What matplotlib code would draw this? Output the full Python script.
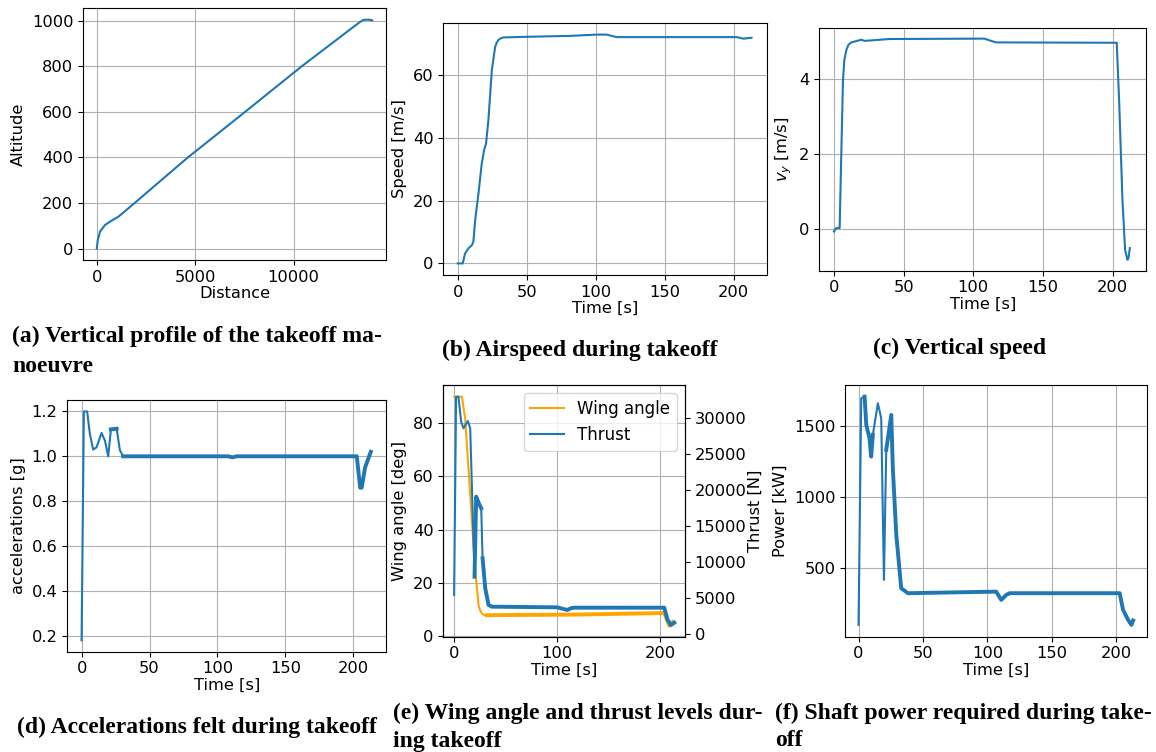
import matplotlib.pyplot as plt

W, H = 1156, 752
plt.rcParams['font.size'] = 11.7
plt.rcParams['font.family'] = 'DejaVu Sans'

blue = '#1f77b4'
orange = '#FFA500'

# (a) vertical profile
dist = [0, 50, 168, 422, 763, 1100, 1912, 4578, 7457, 10427, 13350, 13550, 13800, 14000]
alt = [0, 38, 75, 104, 123, 140, 199, 396, 594, 800, 992, 1003, 1004, 1001]

# (b) airspeed
t_speed = [0, 3.6, 5.3, 7.7, 10.2, 11.3, 12.6, 15, 17.4, 19.1, 20.5, 22.2, 24.7, 27.1, 28.3,
           29.5, 31, 33.1, 50, 81.5, 100.8, 108, 111.5, 115.3, 202, 204.5, 207, 213]
speed = [0, 0, 3.2, 4.8, 5.8, 6.9, 13.8, 22.3, 31.9, 36.2, 38.3, 45.7, 61.7, 69.1, 70.5,
         71.3, 71.8, 72.1, 72.3, 72.6, 73, 73, 72.6, 72.2, 72.2, 72, 71.7, 72]

# (c) vertical speed
t_vy = [0, 1.7, 4.1, 5.3, 6.5, 7.5, 8.9, 10.5, 12.5, 19.6, 22, 40, 108, 112, 116.4, 203,
        204.7, 207.1, 209, 210.7, 211.5, 212.4]
vy = [-0.06, 0.03, 0.03, 2.02, 3.97, 4.5, 4.76, 4.9, 4.96, 5.03, 5.0, 5.05, 5.06, 5.01, 4.96, 4.95,
      3.43, 0.78, -0.55, -0.81, -0.75, -0.5]

# (d) accelerations
t_acc = [0, 1.7, 4.1, 6.1, 8.5, 11, 14.7, 17.2, 19.6, 21.6, 25.8, 28.2, 30.6, 60, 108,
         111, 114, 202.5, 205, 206.1, 208.6, 212.8]
acc = [0.18, 1.2, 1.2, 1.10, 1.03, 1.04, 1.104, 1.07, 1.0, 1.12, 1.123, 1.027, 1.0, 1.0, 1.0,
       0.995, 1.0, 1.0, 0.86, 0.86, 0.95, 1.02]

# (e) wing angle and thrust
t_wing = [0, 7.5, 10.7, 20.5, 23.7, 25.3, 27, 29, 31.8, 113, 204, 208.8, 212]
wing = [90, 90, 81.9, 24.1, 11.6, 9.5, 8.4, 7.9, 7.8, 8.0, 8.6, 3.8, 5.2]
t_thrust = [0, 1.9, 4.2, 6.8, 9.1, 13.3, 15.6, 19.8, 21.4, 24.7, 26.3, 27.6, 30.2, 33.4,
            36.7, 100, 109.7, 113, 116.2, 203.9, 207.1, 210.4, 213.6]
thrust = [5430, 33000, 33000, 29530, 28610, 29620, 28610, 7970, 19100, 17940, 17480, 10530,
          6360, 4030, 3800, 3710, 3340, 3570, 3660, 3660, 1950, 1250, 1570]

# (f) shaft power
t_pow = [0, 2.1, 4.7, 6, 8.5, 9.8, 11.1, 15, 17.6, 19.7, 21.5, 25.4, 26.6, 29.3,
         33.1, 38.3, 106.8, 110.7, 114.6, 117.2, 202.6, 205.2, 209.1, 211.7, 213]
power = [103, 1692, 1703, 1505, 1412, 1283, 1435, 1657, 1552, 418, 1330, 1575, 1201, 733,
         360, 325, 336, 278, 313, 325, 325, 208, 138, 103, 134]


fig = plt.figure(figsize=(W / 100, H / 100), dpi=100)


def px_axes(l, t, r, b):
    return fig.add_axes([l / W, 1 - b / H, (r - l) / W, (b - t) / H])


def caption(x, y, s, ha='left'):
    fig.text(x / W, 1 - y / H, s, ha=ha, va='center', fontsize=17,
             family='Liberation Serif', weight='bold')


def thick(ax, t, y, t0, t1=1e9, color=blue):
    # noisy stretches of the signal look like a wide band
    idx = [i for i, v in enumerate(t) if t0 <= v <= t1]
    ax.plot(t[idx[0]:idx[-1] + 1], y[idx[0]:idx[-1] + 1], color=color, lw=2.8)


# ---- (a)
ax = px_axes(83, 8, 386, 260)
ax.plot(dist, alt, color=blue)
ax.set_xlim(-700, 14700)
ax.set_ylim(-50, 1055)
ax.set_xticks([0, 5000, 10000])
ax.set_xlabel('Distance', labelpad=1)
ax.set_ylabel('Altitude')
ax.grid(True)
caption(12, 336, '(a) Vertical profile of the takeoff ma-')
caption(12, 366, 'noeuvre')

# ---- (b)
ax = px_axes(443.3, 22.7, 766.7, 275)
ax.plot(t_speed, speed, color=blue)
ax.set_xlim(-10.5, 224)
ax.set_ylim(-3.7, 76.8)
ax.set_yticks([0, 20, 40, 60])
ax.set_xlabel('Time [s]', labelpad=1)
ax.set_ylabel('Speed [m/s]')
ax.grid(True)
caption(580, 350, '(b) Airspeed during takeoff', ha='center')

# ---- (c)
ax = px_axes(819.3, 27.7, 1146, 270.7)
ax.plot(t_vy, vy, color=blue)
ax.set_xlim(-10.5, 224)
ax.set_ylim(-1.1, 5.35)
ax.set_yticks([0, 2, 4])
ax.set_xlabel('Time [s]', labelpad=1)
ax.set_ylabel('$v_y$ [m/s]')
ax.grid(True)
caption(960, 348, '(c) Vertical speed', ha='center')

# ---- (d)
ax = px_axes(67.3, 400, 386, 651.7)
ax.plot(t_acc, acc, color=blue)
thick(ax, t_acc, acc, 21.6, 25.8)
thick(ax, t_acc, acc, 30.6)
ax.set_xlim(-10.5, 224)
ax.set_ylim(0.129, 1.251)
ax.set_yticks([0.2, 0.4, 0.6, 0.8, 1.0, 1.2])
ax.set_xlabel('Time [s]', labelpad=1)
ax.set_ylabel('accelerations [g]')
ax.grid(True)
caption(17, 727, '(d) Accelerations felt during takeoff')

# ---- (e)
ax = px_axes(443.3, 385, 685, 636.7)
l1, = ax.plot(t_wing, wing, color=orange, label='Wing angle')
thick(ax, t_wing, wing, 31.8, color=orange)
ax.set_xlim(-10.5, 224)
ax.set_ylim(-0.3, 94.4)
ax.set_yticks([0, 20, 40, 60, 80])
ax.set_xticks([0, 100, 200])
ax.set_xlabel('Time [s]', labelpad=1)
ax.set_ylabel('Wing angle [deg]')
ax.grid(True)
ax2 = ax.twinx()
l2, = ax2.plot(t_thrust, thrust, color=blue, label='Thrust')
thick(ax2, t_thrust, thrust, 19.8, 26.3)
thick(ax2, t_thrust, thrust, 27.6)
ax2.set_ylim(-375, 34630)
ax2.set_yticks([0, 5000, 10000, 15000, 20000, 25000, 30000])
ax2.set_ylabel('Thrust [N]', labelpad=1)
ax2.legend([l1, l2], ['Wing angle', 'Thrust'], loc='upper right', fontsize=12)
caption(393, 713, '(e) Wing angle and thrust levels dur-')
caption(393, 741, 'ing takeoff')

# ---- (f)
ax = px_axes(845, 385, 1147.3, 636.7)
ax.plot(t_pow, power, color=blue)
thick(ax, t_pow, power, 4.7, 11.1)
thick(ax, t_pow, power, 21.5)
ax.set_xlim(-10.5, 224)
ax.set_ylim(20, 1785)
ax.set_yticks([500, 1000, 1500])
ax.set_xlabel('Time [s]', labelpad=1)
ax.set_ylabel('Power [kW]')
ax.grid(True)
caption(775, 713, '(f) Shaft power required during take-')
caption(775, 741, 'off')

fig.savefig('out.png', dpi=100)
